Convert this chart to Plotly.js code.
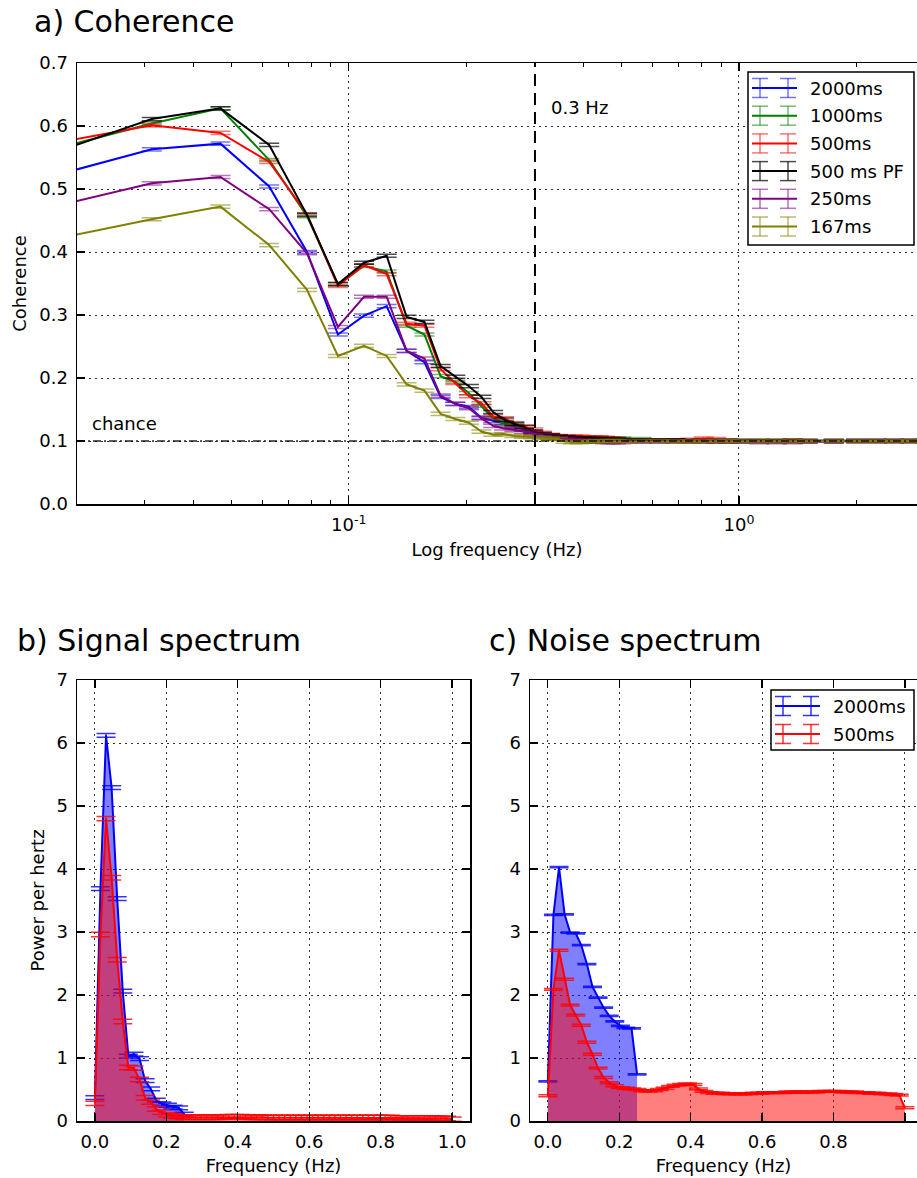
<!DOCTYPE html>
<html>
<head>
<meta charset="utf-8">
<script src="https://cdn.plot.ly/plotly-3.0.1.min.js"></script>
<style>html,body{margin:0;padding:0;background:#fff;}#chart{width:917px;height:1178px;}</style>
</head>
<body>
<div id="chart"></div>
<script>
// ---------- a) Coherence data ----------
const cohFreq = [0.015625,0.03125,0.046875,0.0625,0.078125,0.09375,0.109375,0.125,0.140625,0.15625,
  0.171875,0.1875,0.203125,0.21875,0.234375,0.25,0.265625,0.28125,0.296875,0.3125,
  0.328125,0.34375,0.359375,0.375,0.390625,0.40625,0.421875,0.4375,0.453125,0.46875,0.484375,0.5,
  0.5625,0.625,0.6875,0.75,0.8125,0.875,0.9375,1.0,1.125,1.25,1.375,1.5,1.75,2.0,2.25,2.5,2.75,3.0];

const coh2000 = [0.513,0.563,0.572,0.504,0.400,0.269,0.299,0.314,0.243,0.225,
  0.170,0.159,0.154,0.137,0.132,0.128,0.123,0.118,0.113,0.109,
  0.106,0.105,0.104,0.103,0.102,0.102,0.101,0.101,0.101,0.101,0.101,0.101,
  0.100,0.100,0.100,0.100,0.101,0.100,0.100,0.100,0.100,0.100,0.100,0.100,0.100,0.100,0.100,0.100,0.100,0.100];
const coh1000 = [0.555,0.604,0.628,0.546,0.457,0.349,0.378,0.369,0.283,0.269,
  0.203,0.194,0.176,0.156,0.136,0.128,0.125,0.119,0.115,0.111,
  0.108,0.106,0.105,0.104,0.103,0.103,0.103,0.103,0.104,0.104,0.104,0.104,
  0.103,0.101,0.101,0.100,0.100,0.100,0.100,0.100,0.100,0.100,0.100,0.100,0.100,0.100,0.100,0.100,0.100,0.100];
const coh500 = [0.567,0.601,0.589,0.543,0.460,0.346,0.379,0.365,0.286,0.283,
  0.214,0.192,0.171,0.160,0.139,0.136,0.128,0.123,0.118,0.113,
  0.110,0.108,0.107,0.107,0.107,0.106,0.106,0.106,0.105,0.104,0.103,0.102,
  0.101,0.101,0.101,0.102,0.104,0.103,0.101,0.100,0.100,0.100,0.101,0.100,0.100,0.100,0.100,0.100,0.100,0.100];
const coh500pf = [0.547,0.611,0.628,0.570,0.459,0.349,0.383,0.394,0.297,0.289,
  0.219,0.202,0.187,0.170,0.146,0.134,0.127,0.122,0.115,0.111,
  0.109,0.107,0.106,0.105,0.104,0.104,0.103,0.103,0.103,0.102,0.102,0.102,
  0.101,0.101,0.101,0.100,0.100,0.100,0.100,0.100,0.100,0.100,0.100,0.100,0.100,0.100,0.100,0.100,0.100,0.100];
const coh250 = [0.465,0.509,0.519,0.468,0.398,0.281,0.329,0.329,0.243,0.231,
  0.172,0.159,0.152,0.136,0.124,0.120,0.118,0.115,0.112,0.109,
  0.106,0.104,0.103,0.102,0.101,0.100,0.099,0.099,0.098,0.098,0.098,0.098,
  0.099,0.099,0.099,0.099,0.099,0.099,0.099,0.099,0.098,0.098,0.098,0.099,0.099,0.100,0.100,0.100,0.100,0.100];
const coh167 = [0.414,0.452,0.472,0.411,0.340,0.235,0.251,0.235,0.190,0.180,
  0.143,0.135,0.129,0.115,0.110,0.111,0.108,0.107,0.106,0.105,
  0.104,0.103,0.099,0.098,0.098,0.099,0.099,0.100,0.100,0.100,0.100,0.100,
  0.100,0.100,0.099,0.099,0.100,0.100,0.100,0.100,0.100,0.100,0.100,0.100,0.100,0.100,0.100,0.100,0.100,0.100];

const cohLabels = ['2000ms','1000ms','500ms','500 ms PF','250ms','167ms'];
const cohErr = 0.0025;
const chanceLevel = 0.1;
const cutoffHz = 0.3;
const logTickVals = [0.1, 1];
const logTickText = ['10<sup>-1</sup>', '10<sup>0</sup>'];
const logMinorVals = [0.03,0.04,0.05,0.06,0.07,0.08,0.09,0.2,0.3,0.4,0.5,0.6,0.7,0.8,0.9,2];

// ---------- b) / c) spectra ----------
const specFreq = [0,0.015625,0.03125,0.046875,0.0625,0.078125,0.09375,0.109375,0.125,0.140625,
  0.15625,0.171875,0.1875,0.203125,0.21875,0.234375,0.25,0.265625,0.28125,0.296875,
  0.3125,0.328125,0.34375,0.359375,0.375,0.390625,0.40625,0.421875,0.4375,0.453125,
  0.46875,0.484375,0.5,0.515625,0.53125,0.546875,0.5625,0.578125,0.59375,0.609375,
  0.625,0.640625,0.65625,0.671875,0.6875,0.703125,0.71875,0.734375,0.75,0.765625,
  0.78125,0.796875,0.8125,0.828125,0.84375,0.859375,0.875,0.890625,0.90625,0.921875,
  0.9375,0.953125,0.96875,0.984375,1.0];

const sig2000 = [0.37,3.69,6.12,5.29,3.53,2.06,1.03,1.06,0.99,0.64,0.51,0.33,0.27,0.25,0.22,0.21,0.11];
const sig500 = [0.28,2.96,4.80,3.86,2.56,1.58,0.85,0.84,0.66,0.37,0.30,0.19,0.14,0.10,0.08,0.07,0.06,
  0.06,0.06,0.06,0.06,0.06,0.06,0.065,0.07,0.07,0.07,0.065,0.06,
  0.06,0.06,0.055,0.055,0.055,0.055,0.055,0.055,0.055,0.055,0.055,0.055,
  0.055,0.055,0.055,0.055,0.055,0.055,0.055,0.055,0.055,0.055,0.055,0.055,
  0.055,0.05,0.05,0.05,0.05,0.05,0.05,0.05,0.045,0.045,0.04,0.03];
const noise2000 = [0.63,3.27,4.03,3.28,2.99,2.98,2.79,2.49,2.13,1.96,1.80,1.67,1.58,1.51,1.48,1.47,0.74];
const noise500 = [0.40,2.09,2.71,2.25,1.84,1.68,1.52,1.25,1.06,0.84,0.69,0.61,0.56,0.53,0.52,0.51,0.50,
  0.48,0.475,0.48,0.50,0.52,0.55,0.57,0.58,0.59,0.58,0.51,0.47,0.45,0.44,0.44,0.43,
  0.43,0.43,0.43,0.43,0.44,0.44,0.45,0.45,0.45,0.45,0.46,0.46,0.46,0.46,0.46,0.46,
  0.47,0.47,0.47,0.47,0.46,0.46,0.46,0.45,0.45,0.44,0.44,0.43,0.43,0.42,0.41,0.21];
const sig2000Err = 0.03, sig500Err = 0.035, noise2000Err = 0.01, noise500Err = 0.015;
const specLabels = ['2000ms','500ms'];

// ---------- styling ----------
const FONT = 'DejaVu Sans';
const W = 917, H = 1178;
const cohColors = ['#0000ff','#008000','#ff0000','#000000','#800080','#808000'];
const cohErrColors = ['rgba(0,0,255,0.55)','rgba(0,128,0,0.55)','rgba(255,0,0,0.55)','rgba(0,0,0,0.7)','rgba(128,0,128,0.55)','rgba(128,128,0,0.55)'];
const px = v => v / W;
const py = v => 1 - v / H;

const cohSeries = [coh2000, coh1000, coh500, coh500pf, coh250, coh167];
const traces = [];
cohSeries.forEach((s, i) => {
  traces.push({
    x: cohFreq, y: s, type: 'scatter', mode: 'lines', xaxis: 'x', yaxis: 'y',
    name: cohLabels[i], showlegend: false, hoverinfo: 'skip',
    line: {color: cohColors[i], width: 2},
    error_y: {type: 'constant', value: cohErr, width: 10, thickness: 1.5, color: cohErrColors[i]}
  });
});
// chance and cutoff lines
traces.push({x: [0.0201, 2.86], y: [chanceLevel, chanceLevel], type: 'scatter', mode: 'lines',
  xaxis: 'x', yaxis: 'y', showlegend: false, hoverinfo: 'skip',
  line: {color: 'rgba(0,0,0,0.85)', width: 1.3, dash: '8px,3px,2px,3px'}});
traces.push({x: [cutoffHz, cutoffHz], y: [0, 0.7], type: 'scatter', mode: 'lines',
  xaxis: 'x', yaxis: 'y', showlegend: false, hoverinfo: 'skip',
  line: {color: '#000', width: 2, dash: '12px,7px'}});

function specTrace(x, y, err, color, fill, errColor, xa, ya, name) {
  return {x: x, y: y, type: 'scatter', mode: 'lines', xaxis: xa, yaxis: ya, name: name,
    showlegend: false, hoverinfo: 'skip', fill: 'tozeroy', fillcolor: fill,
    line: {color: color, width: 2},
    error_y: {type: 'constant', value: err, width: 9.5, thickness: 1.5, color: errColor}};
}
const blueFill = 'rgba(0,0,255,0.5)', redFill = 'rgba(255,0,0,0.5)';
traces.push(specTrace(specFreq.slice(0, sig2000.length), sig2000, sig2000Err, '#0000ff', blueFill, 'rgba(0,0,255,0.8)', 'x2', 'y2', specLabels[0]));
traces.push(specTrace(specFreq, sig500, sig500Err, '#ff0000', redFill, 'rgba(255,0,0,0.8)', 'x2', 'y2', specLabels[1]));
traces.push(specTrace(specFreq.slice(0, noise2000.length), noise2000, noise2000Err, '#0000ff', blueFill, 'rgba(0,0,255,0.8)', 'x3', 'y3', specLabels[0]));
traces.push(specTrace(specFreq, noise500, noise500Err, '#ff0000', redFill, 'rgba(255,0,0,0.8)', 'x3', 'y3', specLabels[1]));

// ---------- custom legends (matplotlib errorbar style) ----------
const shapes = [];
const annotations = [];
function legendBox(left, top, right, bottom, labels, colors, errColors, rowTop, rowStep) {
  shapes.push({type: 'rect', xref: 'paper', yref: 'paper', x0: px(left), x1: px(right), y0: py(top), y1: py(bottom),
    fillcolor: '#fff', line: {color: '#000', width: 1.5}, layer: 'above'});
  labels.forEach((lab, i) => {
    const yc = rowTop + i * rowStep;
    const l0 = left + 4, l1 = left + 49, b1 = left + 12, b2 = left + 40;
    const seg = (x0, y0, x1, y1, c, w) => shapes.push({type: 'line', xref: 'paper', yref: 'paper',
      x0: px(x0), y0: py(y0), x1: px(x1), y1: py(y1), line: {color: c, width: w}, layer: 'above'});
    seg(l0, yc, l1, yc, colors[i], 2);
    [b1, b2].forEach(b => {
      seg(b, yc - 9.5, b, yc + 9.5, errColors[i], 1.5);
      seg(b - 8, yc - 9.5, b + 8, yc - 9.5, errColors[i], 1.5);
      seg(b - 8, yc + 9.5, b + 8, yc + 9.5, errColors[i], 1.5);
    });
    annotations.push({xref: 'paper', yref: 'paper', x: px(left + 60), y: py(yc), text: lab,
      showarrow: false, xanchor: 'left', yanchor: 'middle', font: {family: FONT, size: 18, color: '#000'}});
  });
}
legendBox(748, 72, 914, 245, cohLabels, cohColors, cohErrColors, 88, 27.7);
legendBox(771, 690, 914, 750, specLabels, ['#0000ff', '#ff0000'], ['rgba(0,0,255,0.8)', 'rgba(255,0,0,0.8)'], 706, 28);

function txt(x, y, t, size) {
  annotations.push({xref: 'paper', yref: 'paper', x: px(x), y: py(y), text: t, showarrow: false,
    xanchor: 'left', yanchor: 'middle', font: {family: FONT, size: size, color: '#000'}});
}
txt(32, 22, 'a) Coherence', 30);
txt(15, 640, 'b) Signal spectrum', 30);
txt(487, 640, 'c) Noise spectrum', 30);
txt(549, 107, '0.3 Hz', 18);
txt(90, 423, 'chance', 18);

const tickFont = {family: FONT, size: 18, color: '#000'};
const titleFont = {family: FONT, size: 18, color: '#000'};
const base = {
  showline: true, linecolor: '#000', linewidth: 1.5, ticks: 'inside', ticklen: 8, tickwidth: 1.3,
  tickcolor: '#000', showgrid: true, gridcolor: 'rgba(0,0,0,0.8)', gridwidth: 1, griddash: '2px,4px',
  zeroline: false, tickfont: tickFont, ticklabelstandoff: 4, fixedrange: true
};

const layout = {
  width: W, height: H, margin: {l: 0, r: 0, t: 0, b: 0}, paper_bgcolor: '#fff', plot_bgcolor: '#fff',
  font: {family: FONT, color: '#000'}, showlegend: false,
  xaxis: Object.assign({}, base, {
    type: 'log', domain: [px(77), 1], anchor: 'y', range: [Math.log10(0.0201), Math.log10(2.86)],
    tickmode: 'array', tickvals: logTickVals, ticktext: logTickText, mirror: 'ticks',
    minor: {tickmode: 'array', tickvals: logMinorVals, ticks: 'inside', ticklen: 4, tickwidth: 1, tickcolor: '#000', showgrid: false},
    title: {text: 'Log frequency (Hz)', font: titleFont, standoff: 9}
  }),
  yaxis: Object.assign({}, base, {
    domain: [py(504), py(63)], anchor: 'x', range: [0, 0.7], dtick: 0.1, tickformat: '.1f', mirror: false,
    title: {text: 'Coherence', font: titleFont, standoff: 8}
  }),
  xaxis2: Object.assign({}, base, {
    domain: [px(77), px(470)], anchor: 'y2', range: [-0.05, 1.05], dtick: 0.2, tickformat: '.1f', mirror: 'ticks',
    title: {text: 'Frequency (Hz)', font: titleFont, standoff: 8}
  }),
  yaxis2: Object.assign({}, base, {
    domain: [py(1121), py(680)], anchor: 'x2', range: [0, 7], dtick: 1, mirror: 'ticks',
    title: {text: 'Power per hertz', font: titleFont, standoff: 7}
  }),
  xaxis3: Object.assign({}, base, {
    domain: [px(530), 1], anchor: 'y3', range: [-0.05, 1.034], dtick: 0.2, tickformat: '.1f', mirror: 'ticks',
    title: {text: 'Frequency (Hz)', font: titleFont, standoff: 8}
  }),
  yaxis3: Object.assign({}, base, {
    domain: [py(1121), py(680)], anchor: 'x3', range: [0, 7], dtick: 1, mirror: false
  }),
  shapes: shapes,
  annotations: annotations
};

Plotly.newPlot('chart', traces, layout, {staticPlot: true, displayModeBar: false});
</script>
</body>
</html>
